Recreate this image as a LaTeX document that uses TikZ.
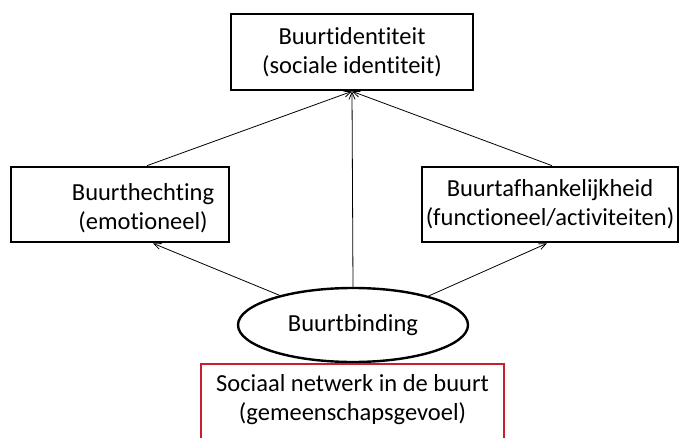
\documentclass[tikz,border=0pt]{standalone}
\usepackage{fontspec}
\setmainfont[Ligatures={NoCommon,NoRare,NoDiscretionary}]{Carlito}
\usetikzlibrary{arrows.meta,shapes.geometric}
\definecolor{boxred}{RGB}{200,30,45}
\tikzset{
  box/.style={draw=black, line width=2.7pt, rectangle, inner sep=0pt, align=center},
  lbl/.style={inner sep=0pt, align=center},
  conn/.style={line width=0.8pt, -{Straight Barb[length=7pt,width=6pt]}},
}
\begin{document}
\begin{tikzpicture}[x=1pt,y=1pt,font=\fontsize{24.5pt}{29pt}\selectfont]
\useasboundingbox (0,0) rectangle (680,437);
\clip (0,0) rectangle (680,437);
\node[box, minimum width=242pt, minimum height=76pt] (top) at (352,385) {Buurtidentiteit\\(sociale identiteit)};
\node[box, minimum width=218pt, minimum height=75pt] (lb) at (120,232.5) {};
\node[lbl] (lbt) at (143,229) {Buurthechting\\(emotioneel)};
\node[box, minimum width=256pt, minimum height=75pt] (rb) at (550,232.5) {Buurtafhankelijkheid\\(functioneel/activiteiten)};
\node[draw=black, line width=2.4pt, ellipse, minimum width=230pt, minimum height=74pt, inner sep=0pt] (ell) at (353,112) {Buurtbinding};
\node[draw=boxred, line width=2.5pt, rectangle, minimum width=303pt, minimum height=100pt, inner sep=0pt] (red) at (352.5,23) {};
\node[lbl] (redt) at (352.5,37) {Sociaal netwerk in de buurt\\(gemeenschapsgevoel)};
\draw[conn] (ell.north) -- (top.south);
\draw[conn] ([xshift=27pt]lb.north) -- (top.south);
\draw[conn] ([xshift=2pt]rb.north) -- (top.south);
\draw[conn] (ell.158.9) -- ([xshift=33pt]lb.south);
\draw[conn] (ell.21.9) -- ([xshift=-3pt]rb.south);
\end{tikzpicture}
\end{document}
